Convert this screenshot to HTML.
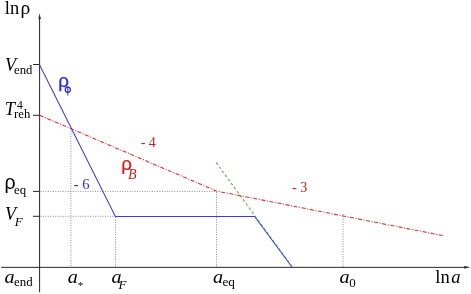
<!DOCTYPE html>
<html><head><meta charset="utf-8">
<style>
html,body{margin:0;padding:0;background:#fff;}
body{width:471px;height:294px;overflow:hidden;}
svg{display:block;will-change:transform;}
text{font-family:"Liberation Serif",serif;fill:#000;}
.i{font-style:italic;}
.ss{font-family:"Liberation Sans",sans-serif;}
</style></head><body>
<svg width="471" height="294" viewBox="0 0 471 294">
<rect width="471" height="294" fill="#fff"/>
<!-- dotted guides -->
<g stroke="#8a8a8a" stroke-width="1" stroke-dasharray="1 1.478" fill="none">
<line x1="70.9" y1="131" x2="70.9" y2="267"/>
<line x1="115.5" y1="217" x2="115.5" y2="267"/>
<line x1="216.5" y1="192" x2="216.5" y2="267"/>
<line x1="343" y1="214" x2="343" y2="267"/>
<line x1="40.5" y1="191.4" x2="216" y2="191.4"/>
<line x1="40.5" y1="216.3" x2="115" y2="216.3"/>
</g>
<!-- axes -->
<g stroke="#262626" stroke-width="1" fill="none">
<line x1="39.6" y1="17" x2="39.6" y2="292.4"/>
<line x1="1.2" y1="267.35" x2="466" y2="267.35"/>
<line x1="33" y1="64.5" x2="39.5" y2="64.5"/>
<line x1="33" y1="115.3" x2="39.5" y2="115.3"/>
<line x1="33" y1="191.4" x2="39.5" y2="191.4"/>
<line x1="33" y1="216.3" x2="39.5" y2="216.3"/>
</g>
<path d="M39.6 13.2 L40.95 19.3 L39.6 18.7 L38.25 19.3 Z" fill="#303030"/>
<path d="M470.2 267.3 L463.9 265.85 L464.6 267.3 L463.9 268.75 Z" fill="#303030"/>
<!-- green dashed -->
<line x1="216.2" y1="162.6" x2="292.1" y2="266.8" stroke="#5cb45c" stroke-width="1.05" stroke-dasharray="2.5 2.56"/>
<!-- red dash-dot -->
<polyline points="39.7,115.3 216.4,191 443,235.6" fill="none" stroke="#e02c2c" stroke-width="1.08" stroke-dasharray="4.1 1.56 1 1.55"/>
<!-- blue -->
<polyline points="39.4,64.6 115.4,216.45 254.6,216.45 291.8,266.8" fill="none" stroke="#3a3ae0" stroke-width="1.05"/>
<!-- green dashed (over blue) -->
<line x1="216.2" y1="162.6" x2="292.1" y2="266.8" stroke="#5cb45c" stroke-width="1.05" opacity="0.4" stroke-dasharray="2.5 2.56"/>
<!-- labels -->
<text x="4.8" y="13.8" font-size="18.5">ln</text><text x="20.5" y="13.8" font-size="19.5">ρ</text>
<text x="4.9" y="71.4" font-size="18.2" class="i">V</text><text x="14.0" y="73.7" font-size="12.7">end</text>
<text x="4.8" y="114.9" font-size="18.5" class="i">T</text><text x="14.1" y="118.3" font-size="12.7">reh</text><text x="16.9" y="109.1" font-size="11.5">4</text>
<text x="4.4" y="188.7" font-size="19.5" class="ss">ρ</text><text x="14.0" y="194" font-size="12.8">eq</text>
<text x="4.9" y="219.6" font-size="18.2" class="i">V</text><text x="14.8" y="225.5" font-size="13" class="i">F</text>
<text transform="translate(4.4 282.9) scale(1.09 1)" font-size="18.5" class="i">a</text><text x="14.0" y="285.9" font-size="12.9">end</text>
<text transform="translate(67.7 282.9) scale(1.09 1)" font-size="18.5" class="i">a</text><text x="77.7" y="288.8" font-size="11">*</text>
<text transform="translate(111.6 282.9) scale(1.09 1)" font-size="18.5" class="i">a</text><text x="118.6" y="288.9" font-size="13" class="i">F</text>
<text transform="translate(213.0 282.9) scale(1.09 1)" font-size="18.5" class="i">a</text><text x="222.4" y="285.9" font-size="13.2">eq</text>
<text transform="translate(339.5 282.9) scale(1.09 1)" font-size="18.5" class="i">a</text><text x="349.2" y="286.7" font-size="13">0</text>
<text x="435.3" y="282.8" font-size="18.5">ln</text><text x="451.3" y="282.8" font-size="18.5" class="i">a</text>
<!-- coloured labels -->
<text x="58.3" y="86.5" font-size="18.8" class="ss" style="fill:#2a2ae0;stroke:#2a2ae0;stroke-width:0.25">ρ</text><ellipse cx="67.8" cy="89.8" rx="2.55" ry="2.6" fill="none" stroke="#2a2ae0" stroke-width="1.25"/><line x1="67.8" y1="86.4" x2="67.8" y2="95.6" stroke="#2a2ae0" stroke-width="1"/>
<text x="121.3" y="169.5" font-size="18.8" class="ss" style="fill:#d01c1c;stroke:#d01c1c;stroke-width:0.2">ρ</text><text x="128" y="178.6" font-size="14" class="i" style="fill:#d01c1c">B</text>
<text x="140.7" y="146.8" font-size="14" style="fill:#d01c1c">- 4</text>
<text x="73.7" y="188.6" font-size="14.6" style="fill:#2a2ae0">- 6</text>
<text x="292.2" y="191.6" font-size="14" style="fill:#d01c1c">- 3</text>
</svg>
</body></html>
